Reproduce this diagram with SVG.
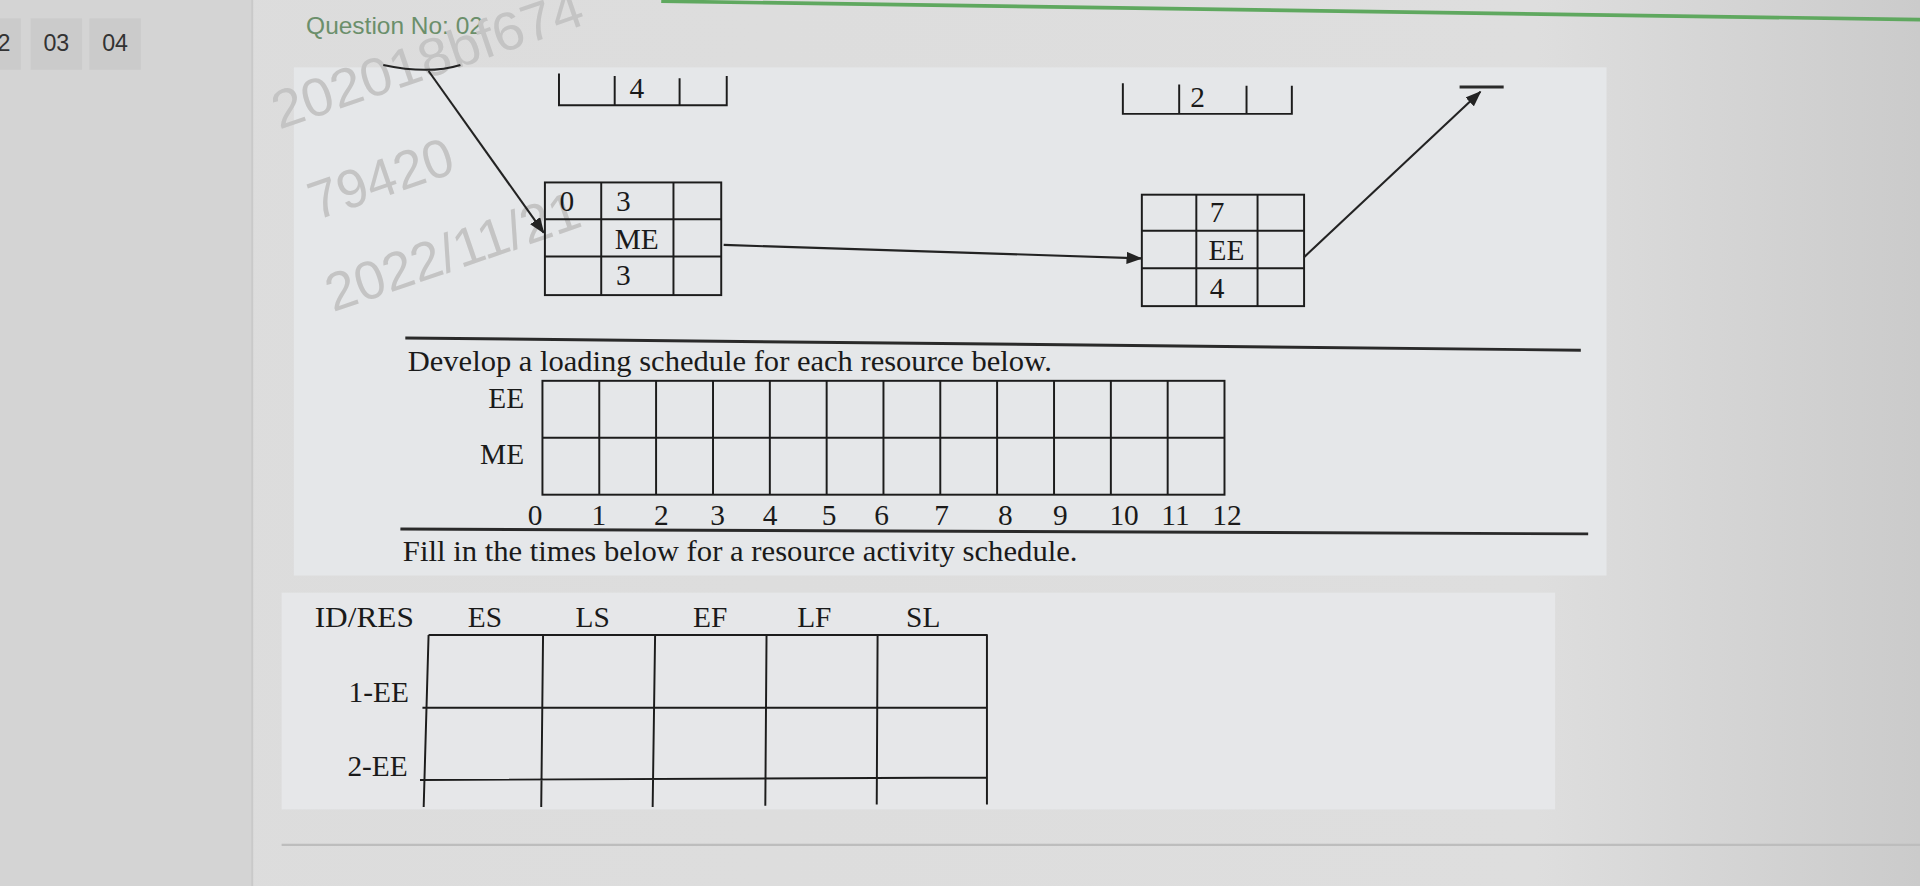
<svg xmlns="http://www.w3.org/2000/svg" width="1920" height="886" viewBox="0 0 1920 886">
<defs>
<style>
.cell{fill:none;stroke:#1c1c1c;stroke-width:1.6}
.sep{stroke:#2a2a2a;stroke-width:2.4;fill:none}
.t{font-family:"Liberation Serif","Times New Roman",serif;font-size:24px;fill:#1a1a1a}
.wm{font-family:"Liberation Sans",Arial,sans-serif;font-size:44px;fill:#c4c4c4}
.ui{font-family:"Liberation Sans",Arial,sans-serif;font-size:19px;fill:#333}
.conn{stroke:#232323;stroke-width:1.7;fill:none}
.tab{fill:#cbcbcb}
</style>
<linearGradient id="bg" x1="0" y1="0" x2="1" y2="0">
<stop offset="0" stop-color="#dcdcdc"/>
<stop offset="0.8" stop-color="#dedede"/>
<stop offset="1" stop-color="#cbcbcb"/>
</linearGradient>
<marker id="arr" markerUnits="userSpaceOnUse" markerWidth="13" markerHeight="10" refX="12" refY="5" orient="auto">
<path d="M0,0 L13,5 L0,10 z" fill="#232323"/>
</marker>
</defs>
<g transform="scale(1.22449)">
<g id="background">
<rect x="0" y="0" width="1568" height="724" fill="url(#bg)"/>
<rect x="0" y="0" width="206" height="724" fill="#d4d4d4"/>
<line x1="206" y1="0" x2="206" y2="724" stroke="#c9c9c9" stroke-width="1.5"/>
<rect x="240" y="55" width="1072" height="415" fill="#e5e7e9"/>
<rect x="230" y="484" width="1040" height="177" fill="#e6e7e9"/>
<line x1="540" y1="1" x2="1568" y2="16" stroke="#5fa85f" stroke-width="3"/>
<line x1="230" y1="690" x2="1568" y2="690" stroke="#bdbdbd" stroke-width="2"/>
</g>
<g id="tabs">
<rect class="tab" x="0" y="15" width="17" height="42"/>
<rect class="tab" x="25" y="15" width="42" height="42"/>
<rect class="tab" x="73" y="15" width="42" height="42"/>
<text class="ui" x="-2" y="42">2</text>
<text class="ui" x="46" y="42" text-anchor="middle">03</text>
<text class="ui" x="94" y="42" text-anchor="middle">04</text>
<text class="ui" x="250" y="28" style="font-size:20px;fill:#6b8f6b">Question No: 02</text>
</g>
<g id="watermark">
<text class="wm" transform="translate(228,106) rotate(-19)" textLength="266" lengthAdjust="spacingAndGlyphs">202018bf674</text>
<text class="wm" transform="translate(258,180) rotate(-19)">79420</text>
<text class="wm" transform="translate(272,255) rotate(-19)">2022/11/21</text>
</g>
<g id="node-prev-top">
<path class="cell" d="M456.5,60 V86 H593.5 V62 M502,62 V86 M555,64 V86"/>
<text class="t" x="514" y="80">4</text>
</g>
<g id="node-next-top">
<path class="cell" d="M917,68 V93 H1055 V70 M963,69 V93 M1018,70 V93"/>
<text class="t" x="972" y="87">2</text>
</g>
<g id="node-ME">
<rect class="cell" x="445" y="149" width="144" height="92"/>
<path class="cell" d="M491,149 V241 M550,149 V241 M445,179 H589 M445,209.5 H589"/>
<text class="t" x="457" y="172">0</text>
<text class="t" x="503" y="172">3</text>
<text class="t" x="502" y="203">ME</text>
<text class="t" x="503" y="233">3</text>
</g>
<g id="node-EE">
<rect class="cell" x="932.5" y="159" width="132.5" height="91"/>
<path class="cell" d="M977,159 V250 M1027,159 V250 M932.5,188.5 H1065 M932.5,219 H1065"/>
<text class="t" x="988" y="181">7</text>
<text class="t" x="987" y="212">EE</text>
<text class="t" x="988" y="243">4</text>
</g>
<g id="connectors">
<path class="conn" d="M313,53 Q350,61 376,53"/>
<line class="conn" x1="350" y1="58" x2="444" y2="190" marker-end="url(#arr)"/>
<line class="conn" x1="591" y1="200" x2="932" y2="211" marker-end="url(#arr)"/>
<line class="conn" x1="1065" y1="210" x2="1209" y2="75" marker-end="url(#arr)"/>
<line x1="1192" y1="71" x2="1228" y2="71" stroke="#2a2a2a" stroke-width="2.5"/>
</g>
<g id="loading-schedule">
<line class="sep" x1="331" y1="276" x2="1291" y2="286"/>
<text class="t" x="333" y="303" textLength="526" lengthAdjust="spacingAndGlyphs">Develop a loading schedule for each resource below.</text>
<rect class="cell" x="443" y="311" width="557" height="93"/>
<path class="cell" d="M443,357.5 H1000 M489.4,311 V404 M535.8,311 V404 M582.3,311 V404 M628.7,311 V404 M675.1,311 V404 M721.5,311 V404 M767.9,311 V404 M814.3,311 V404 M860.8,311 V404 M907.2,311 V404 M953.6,311 V404"/>
<text class="t" x="428" y="333" text-anchor="end">EE</text>
<text class="t" x="428" y="379" text-anchor="end">ME</text>
<g class="t" text-anchor="middle">
<text x="437" y="429">0</text>
<text x="489" y="429">1</text>
<text x="540" y="429">2</text>
<text x="586" y="429">3</text>
<text x="629" y="429">4</text>
<text x="677" y="429">5</text>
<text x="720" y="429">6</text>
<text x="769" y="429">7</text>
<text x="821" y="429">8</text>
<text x="866" y="429">9</text>
<text x="918" y="429">10</text>
<text x="960" y="429">11</text>
<text x="1002" y="429">12</text>
</g>
<line class="sep" x1="327" y1="432" x2="1297" y2="436"/>
<text class="t" x="329" y="458" textLength="551" lengthAdjust="spacingAndGlyphs">Fill in the times below for a resource activity schedule.</text>
</g>
<g id="activity-table">
<text class="t" x="257" y="512" textLength="81" lengthAdjust="spacingAndGlyphs">ID/RES</text>
<text class="t" x="382" y="512">ES</text>
<text class="t" x="470" y="512">LS</text>
<text class="t" x="566" y="512">EF</text>
<text class="t" x="651" y="512">LF</text>
<text class="t" x="740" y="512">SL</text>
<path class="cell" d="M350,518.6 H806 M345,578 H806 M343,637 L806,635 M350,518.6 L346,659 M443.5,518.6 L442,659 M535,518.6 L533,659 M626,518.6 L625,658 M716.7,518.6 L716,657 M806,518 V657"/>
<text class="t" x="334" y="573" text-anchor="end">1-EE</text>
<text class="t" x="333" y="634" text-anchor="end">2-EE</text>
</g>
</g>
</svg>
